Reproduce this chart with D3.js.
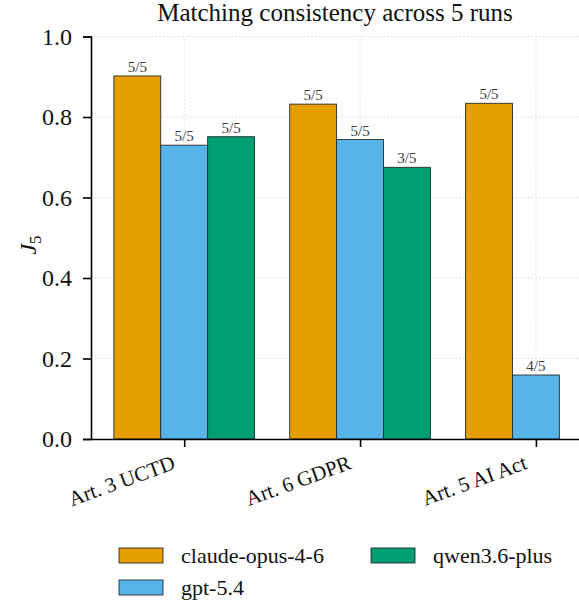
<!DOCTYPE html>
<html>
<head>
<meta charset="utf-8">
<script src="https://cdn.jsdelivr.net/npm/d3@7"></script>
<style>
	body { margin: 0; background: #fff; }
</style>
</head>
<body>
<div id="chart-area"></div>
<script>

// data
var categories = ["Art. 3 UCTD", "Art. 6 GDPR", "Art. 5 AI Act"];
var models = ["claude-opus-4-6", "gpt-5.4", "qwen3.6-plus"];
var claudeVals = [0.902, 0.832, 0.834];
var gptVals = [0.730, 0.744, 0.159];
var qwenVals = [0.751, 0.675, null];
var claudeRuns = ["5/5", "5/5", "5/5"];
var gptRuns = ["5/5", "5/5", "4/5"];
var qwenRuns = ["5/5", "3/5", null];
var yTicks = [0.0, 0.2, 0.4, 0.6, 0.8, 1.0];
var colors = ["#E69F00", "#56B4E9", "#009E73"];

var serif = "'Liberation Serif', 'DejaVu Serif', serif";

var width = 579,
	height = 603;

var svg = d3.select("#chart-area").append("svg")
	.attr("width", width)
	.attr("height", height)
	.attr("font-family", serif);

// category index -> pixel (centres at 184, 360, 536)
var x = d3.scaleLinear()
	.domain([-0.53, 2.245])
	.range([91, 579]);

var y = d3.scaleLinear()
	.domain([0, 1])
	.range([439, 36.5]);

var groupWidth = 0.8;
var barW = groupWidth / 3;

var series = [
	{name: models[0], vals: claudeVals, runs: claudeRuns, color: colors[0]},
	{name: models[1], vals: gptVals, runs: gptRuns, color: colors[1]},
	{name: models[2], vals: qwenVals, runs: qwenRuns, color: colors[2]}
];

// grid
var grid = svg.append("g");
yTicks.slice(1).forEach(function(t) {
	grid.append("line")
		.attr("x1", x.range()[0]).attr("x2", x.range()[1])
		.attr("y1", y(t)).attr("y2", y(t))
		.attr("stroke", "#cfcfcf").attr("stroke-width", 0.9)
		.attr("stroke-dasharray", "1.2,2.6");
});
categories.forEach(function(c, i) {
	grid.append("line")
		.attr("x1", x(i)).attr("x2", x(i))
		.attr("y1", y(0)).attr("y2", y(1))
		.attr("stroke", "#cfcfcf").attr("stroke-width", 0.9)
		.attr("stroke-dasharray", "1.2,2.6");
});

// bars
series.forEach(function(s, si) {
	var pts = [];
	s.vals.forEach(function(v, i) {
		if (v !== null) pts.push({i: i, v: v, run: s.runs[i]});
	});
	var g = svg.append("g");
	g.selectAll("rect")
		.data(pts)
		.enter()
		.append("rect")
		.attr("x", function(d) { return x(d.i - groupWidth / 2 + si * barW); })
		.attr("y", function(d) { return y(d.v); })
		.attr("width", function(d) { return x(barW) - x(0); })
		.attr("height", function(d) { return y(0) - y(d.v); })
		.attr("fill", s.color)
		.attr("stroke", "#2a2a2a")
		.attr("stroke-width", 0.9);
	g.selectAll("text")
		.data(pts)
		.enter()
		.append("text")
		.attr("x", function(d) { return x(d.i - groupWidth / 2 + (si + 0.5) * barW); })
		.attr("y", function(d) { return y(d.v) - 4; })
		.attr("text-anchor", "middle")
		.attr("font-size", 15)
		.attr("fill", "#3a3a3a")
		.text(function(d) { return d.run; });
});

// axes
var yAxis = d3.axisLeft(y)
	.tickValues(yTicks)
	.tickFormat(d3.format(".1f"))
	.tickSize(8)
	.tickPadding(11);
var yg = svg.append("g")
	.attr("transform", "translate(" + x.range()[0] + ",0)")
	.call(yAxis)
	.attr("font-family", serif)
	.attr("font-size", 24);
yg.select(".domain").attr("stroke-width", 1.6);
yg.selectAll(".tick line").attr("stroke-width", 1.6);
yg.selectAll(".tick text").attr("fill", "#111");

var xAxis = d3.axisBottom(x)
	.tickValues([0, 1, 2])
	.tickFormat(function(d) { return categories[d]; })
	.tickSize(8)
	.tickSizeOuter(0);
var xg = svg.append("g")
	.attr("transform", "translate(0," + y(0) + ")")
	.call(xAxis)
	.attr("font-family", serif)
	.attr("font-size", 21);
xg.select(".domain").attr("stroke-width", 1.6);
xg.selectAll(".tick line").attr("stroke-width", 1.6);
xg.selectAll(".tick text")
	.attr("fill", "#111")
	.attr("text-anchor", "end")
	.attr("dy", "0")
	.attr("transform", "translate(-12,19) rotate(-20)");

// y label
svg.append("text")
	.attr("transform", "translate(36,245) rotate(-90)")
	.attr("text-anchor", "middle")
	.attr("font-size", 24)
	.attr("fill", "#111")
	.html('<tspan font-style="italic">J</tspan><tspan font-size="17" dy="5">5</tspan>');

// title
svg.append("text")
	.attr("x", (x.range()[0] + x.range()[1]) / 2)
	.attr("y", 21)
	.attr("text-anchor", "middle")
	.attr("font-size", 25)
	.attr("fill", "#111")
	.text("Matching consistency across 5 runs");

// legend, two columns filled column first
var legendPos = [[119, 548], [119, 580], [371, 548]];
var legend = svg.append("g");
series.forEach(function(s, i) {
	var p = legendPos[i];
	legend.append("rect")
		.attr("x", p[0]).attr("y", p[1])
		.attr("width", 44).attr("height", 15)
		.attr("fill", s.color)
		.attr("stroke", "#2a2a2a")
		.attr("stroke-width", 0.9);
	legend.append("text")
		.attr("x", p[0] + 62)
		.attr("y", p[1] + 15)
		.attr("font-size", 22)
		.attr("fill", "#111")
		.text(s.name);
});

</script>
</body>
</html>
